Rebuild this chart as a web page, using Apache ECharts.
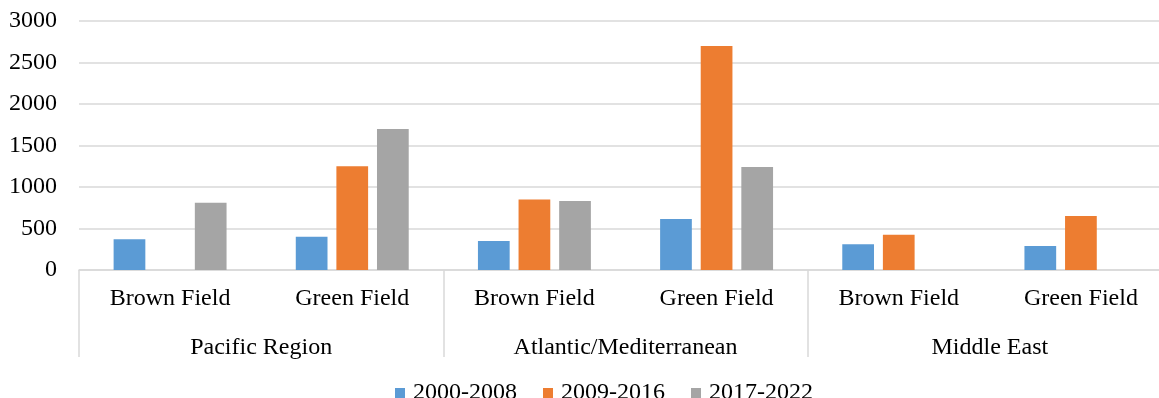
<!DOCTYPE html>
<html>
<head>
<meta charset="utf-8">
<title>Investment by region and field type</title>
<script src="https://cdn.jsdelivr.net/npm/echarts@6/dist/echarts.min.js"></script>
<style>
  html, body { margin: 0; padding: 0; background: #fff; }
  #chart { width: 1159px; height: 398px; }
</style>
</head>
<body>
<div id="chart"></div>
<script>
// Sub-categories (first axis level) and regions (second axis level)
const fieldTypes = ['Brown Field', 'Green Field', 'Brown Field', 'Green Field', 'Brown Field', 'Green Field'];
const regions = ['Pacific Region', 'Atlantic/Mediterranean', 'Middle East'];

// Series values, one entry per sub-category
const periodNames = ['2000-2008', '2009-2016', '2017-2022'];
const values2000_2008 = [370, 400, 350, 615, 310, 290];
const values2009_2016 = [null, 1250, 850, 2700, 425, 650];
const values2017_2022 = [810, 1700, 830, 1240, null, null];

// Y-axis scale
const yMin = 0;
const yMax = 3000;
const yStep = 500;

const colors = ['#5b9bd5', '#ed7d31', '#a5a5a5'];
const seriesValues = [values2000_2008, values2009_2016, values2017_2022];
const fontFamily = '"Liberation Serif", "Times New Roman", serif';
const lineColor = '#d9d9d9';
const lineWidth = 1.5;
const fontSize = 24;

const chart = echarts.init(document.getElementById('chart'), null, { renderer: 'canvas' });

chart.setOption({
  animation: false,
  color: colors,
  textStyle: { fontFamily: fontFamily },
  // the plot runs a little past the right edge of the canvas
  grid: {
    left: 79, width: 1093, top: 21, height: 249,
    containLabel: false,
    outerBoundsMode: 'none'
  },
  legend: {
    data: periodNames,
    left: 390,
    top: 376,
    itemWidth: 10,
    itemHeight: 10,
    itemGap: 26,
    icon: 'rect',
    textStyle: { fontFamily: fontFamily, fontSize: fontSize, color: '#000', padding: [0, 0, 0, 3] }
  },
  xAxis: [
    {
      type: 'category',
      data: fieldTypes,
      position: 'bottom',
      axisLine: { show: true, lineStyle: { color: lineColor, width: lineWidth } },
      axisTick: { show: false },
      axisLabel: {
        interval: 0,
        margin: 29,
        verticalAlign: 'middle',
        fontFamily: fontFamily,
        fontSize: fontSize,
        color: '#000'
      }
    },
    {
      type: 'category',
      data: regions,
      position: 'bottom',
      axisLine: { show: false },
      axisTick: { show: true, length: 87, interval: 0, lineStyle: { color: lineColor, width: lineWidth } },
      axisLabel: {
        interval: 0,
        margin: 78,
        verticalAlign: 'middle',
        fontFamily: fontFamily,
        fontSize: fontSize,
        color: '#000'
      }
    }
  ],
  yAxis: {
    type: 'value',
    min: yMin,
    max: yMax,
    interval: yStep,
    axisLine: { show: false },
    axisTick: { show: false },
    splitLine: { show: true, lineStyle: { color: lineColor, width: lineWidth } },
    axisLabel: {
      margin: 22,
      fontFamily: fontFamily,
      fontSize: fontSize,
      color: '#000',
      formatter: (v) => String(v)
    }
  },
  series: periodNames.map((name, i) => ({
    name: name,
    type: 'bar',
    xAxisIndex: 0,
    data: seriesValues[i],
    barGap: '28%',
    barCategoryGap: '38%',
    itemStyle: { color: colors[i] }
  }))
});
</script>
</body>
</html>
